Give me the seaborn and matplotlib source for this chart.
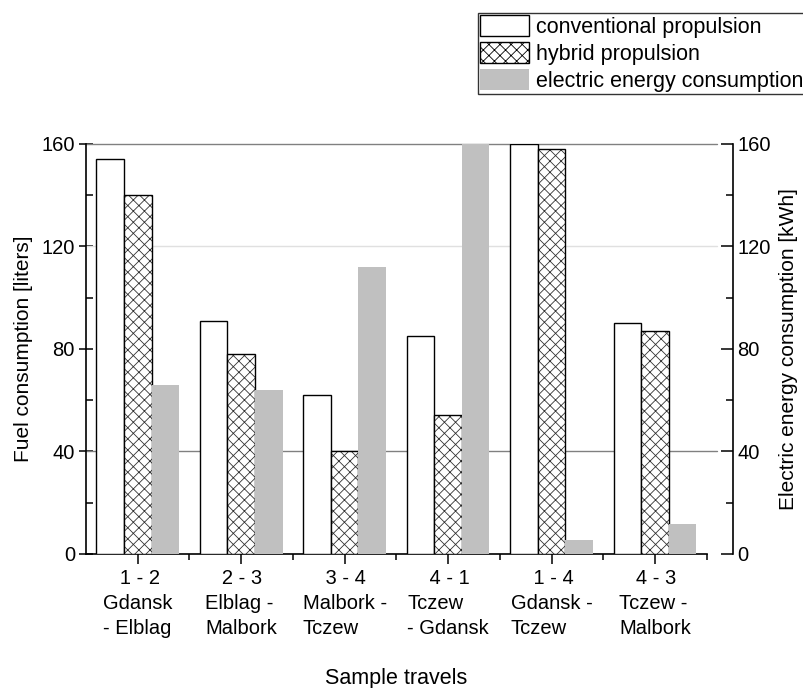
import seaborn as sns
import pandas as pd
import matplotlib.pyplot as plt
from matplotlib.patches import Patch
from matplotlib.ticker import MultipleLocator, FixedLocator

routes = ['1 - 2\nGdansk\n- Elblag', '2 - 3\nElblag -\nMalbork', '3 - 4\nMalbork -\nTczew',
          '4 - 1\nTczew\n- Gdansk', '1 - 4\nGdansk -\nTczew', '4 - 3\nTczew -\nMalbork']
series = ['conventional propulsion', 'hybrid propulsion', 'electric energy consumption']
conventional = [154, 91, 62, 85, 160, 90]      # liters
hybrid = [140, 78, 40, 54, 158, 87]            # liters
electric = [66, 64, 112, 160, 5.5, 11.5]       # kWh

# left-align lines 2-3, keep the route numbers centred over them
pad_spaces = [3, 3, 4, 4, 4, 3]

df = pd.DataFrame({
    'route': routes * 3,
    'series': [s for s in series for _ in routes],
    'value': conventional + hybrid + electric,
})

sns.set_style('ticks')
plt.rcParams['font.family'] = ['Liberation Sans', 'DejaVu Sans']
plt.rcParams['hatch.linewidth'] = 0.6
plt.rcParams['text.color'] = 'black'
plt.rcParams['axes.labelcolor'] = 'black'
plt.rcParams['xtick.color'] = 'black'
plt.rcParams['ytick.color'] = 'black'

fig = plt.figure(figsize=(8.04, 6.88), dpi=100)
ax = fig.add_axes([0.107, 0.195, 0.772, 0.596])

sns.barplot(data=df, x='route', y='value', hue='series', order=routes, hue_order=series,
            palette=['white', 'white', '#c0c0c0'], saturation=1, width=0.8,
            legend=False, ax=ax)

styles = [dict(fc='white', ec='black', hatch=None, lw=1.0),
          dict(fc='white', ec='black', hatch='xxx', lw=1.0),
          dict(fc='#c0c0c0', ec='none', hatch=None, lw=0)]
for cont, st in zip(ax.containers, styles):
    for p in cont.patches:
        p.set_facecolor(st['fc'])
        p.set_edgecolor(st['ec'])
        p.set_linewidth(st['lw'])
        if st['hatch']:
            p.set_hatch(st['hatch'])
            p._hatch_color = (0.2, 0.2, 0.2, 1)
        p.set_zorder(3)

ax.set_ylim(0, 160)
ax.set_xlim(-0.5, 5.5)

# horizontal reference lines
for y, c in [(160, '#808080'), (120, '#e0e0e0'), (40, '#808080')]:
    ax.axhline(y, xmin=0, xmax=1.016, color=c, lw=1.0, zorder=1, clip_on=False)

ax.yaxis.set_major_locator(MultipleLocator(40))
ax.yaxis.set_minor_locator(MultipleLocator(20))
ax.tick_params(axis='y', which='major', direction='inout', length=10, width=1.1,
               labelsize=14.5, pad=3)
ax.tick_params(axis='y', which='minor', direction='in', length=5, width=1.1)

labels = [' ' * n + r.split('\n')[0] + '\n' + '\n'.join(r.split('\n')[1:])
          for r, n in zip(routes, pad_spaces)]
ax.set_xticks(range(len(routes)))
ax.set_xticklabels(labels, fontsize=14.5, multialignment='left', linespacing=1.38)
ax.xaxis.set_minor_locator(FixedLocator([0.5, 1.5, 2.5, 3.5, 4.5, 5.5]))
ax.tick_params(axis='x', which='major', direction='out', length=7, width=1.1, pad=4)
ax.tick_params(axis='x', which='minor', direction='out', length=4, width=1.1)

ax.set_xlabel('Sample travels', fontsize=15.5, labelpad=22)
ax.set_ylabel('Fuel consumption [liters]', fontsize=15, labelpad=6)

for s in ['top', 'right']:
    ax.spines[s].set_visible(False)
for s in ['left', 'bottom']:
    ax.spines[s].set_linewidth(1.2)
    ax.spines[s].set_color('black')

# right axis for electric energy
ax2 = ax.twinx()
ax2.set_ylim(0, 160)
ax2.yaxis.set_major_locator(MultipleLocator(40))
ax2.yaxis.set_minor_locator(MultipleLocator(20))
ax2.spines['right'].set_position(('outward', 19))
ax2.spines['right'].set_linewidth(1.2)
ax2.spines['right'].set_color('black')
for s in ['top', 'left', 'bottom']:
    ax2.spines[s].set_visible(False)
ax2.tick_params(axis='y', which='major', direction='in', length=9, width=1.1,
                labelsize=14.5, pad=3)
ax2.tick_params(axis='y', which='minor', direction='in', length=5, width=1.1)
ax2.set_ylabel('Electric energy consumption [kWh]', fontsize=15, labelpad=6)

handles = [Patch(facecolor='white', edgecolor='black', lw=1.0),
           Patch(facecolor='white', edgecolor='black', hatch='xxx', lw=1.0),
           Patch(facecolor='#c0c0c0', edgecolor='none')]
leg = fig.legend(handles, series, loc='upper left', bbox_to_anchor=(0.594, 0.981),
                 fontsize=15.5, frameon=True, fancybox=False, edgecolor='black',
                 handlelength=2.3, handleheight=1.1, labelspacing=0.2,
                 handletextpad=0.3, borderpad=0.1, borderaxespad=0)
leg.get_frame().set_linewidth(1.0)

fig.savefig('out.png', dpi=100)
